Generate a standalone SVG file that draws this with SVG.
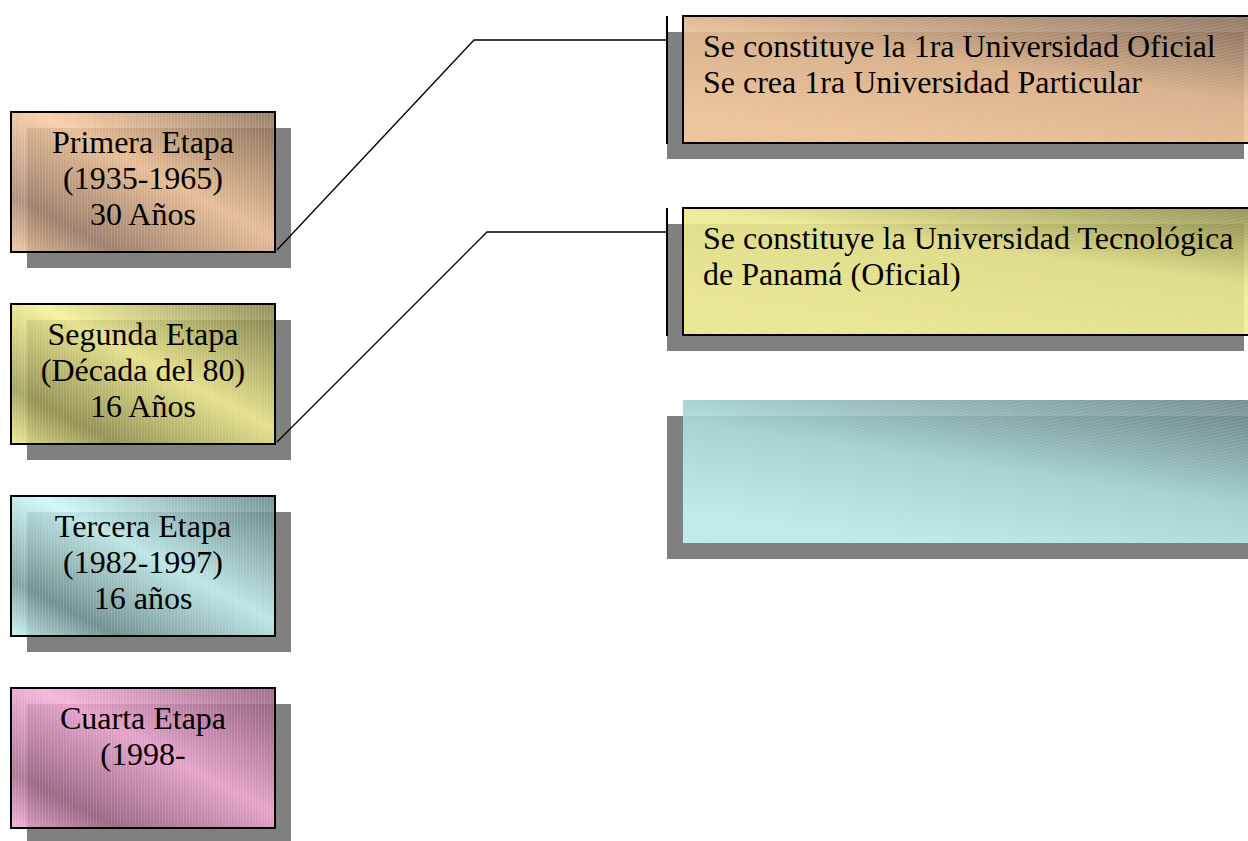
<svg xmlns="http://www.w3.org/2000/svg" width="1248" height="841" viewBox="0 0 1248 841">
<style>
.shadow{fill:#808080}
.box{stroke:#000;stroke-width:2}
.t{font-family:"Liberation Serif","Times New Roman",serif;font-size:32px;fill:#000}
.c{text-anchor:middle}
.conn{fill:none;stroke:#000;stroke-width:1.3}
.bar{stroke:#000;stroke-width:2}
</style>
<defs>
<linearGradient id="gPeachL" x1="1" y1="0" x2="0" y2="1">
<stop offset="0" stop-color="#85694f"/>
<stop offset="0.45" stop-color="#f8c799"/>
<stop offset="0.8" stop-color="#a3816a"/>
<stop offset="1" stop-color="#efbf92"/>
</linearGradient>
<linearGradient id="gYellowL" x1="1" y1="0" x2="0" y2="1">
<stop offset="0" stop-color="#7c7b3e"/>
<stop offset="0.45" stop-color="#f5f08e"/>
<stop offset="0.8" stop-color="#98964d"/>
<stop offset="1" stop-color="#ece785"/>
</linearGradient>
<linearGradient id="gTealL" x1="1" y1="0" x2="0" y2="1">
<stop offset="0" stop-color="#5e8080"/>
<stop offset="0.45" stop-color="#c8f7f7"/>
<stop offset="0.8" stop-color="#6f9494"/>
<stop offset="1" stop-color="#c3f2f2"/>
</linearGradient>
<linearGradient id="gPinkL" x1="1" y1="0" x2="0" y2="1">
<stop offset="0" stop-color="#8e5675"/>
<stop offset="0.45" stop-color="#f5a8d6"/>
<stop offset="0.8" stop-color="#a06486"/>
<stop offset="1" stop-color="#f2a4d1"/>
</linearGradient>
<linearGradient id="gPeachR" x1="1" y1="0" x2="0.4" y2="1">
<stop offset="0" stop-color="#7d6450"/>
<stop offset="0.5" stop-color="#e5b78c"/>
<stop offset="1" stop-color="#fbcb9c"/>
</linearGradient>
<linearGradient id="gYellowR" x1="1" y1="0" x2="0.4" y2="1">
<stop offset="0" stop-color="#858440"/>
<stop offset="0.45" stop-color="#ecE889"/>
<stop offset="1" stop-color="#f8f494"/>
</linearGradient>
<linearGradient id="gTealR" x1="1" y1="0" x2="0.4" y2="1">
<stop offset="0" stop-color="#627e7d"/>
<stop offset="0.55" stop-color="#a8dcdc"/>
<stop offset="1" stop-color="#c6f8f8"/>
</linearGradient>
<pattern id="vstripe" width="3" height="3" patternUnits="userSpaceOnUse">
<rect x="0" y="0" width="1" height="3" fill="#fff" opacity="0.12"/>
</pattern>
<pattern id="dstripe" width="6" height="3" patternUnits="userSpaceOnUse" patternTransform="rotate(-12)">
<rect x="0" y="0" width="6" height="1" fill="#fff" opacity="0.12"/>
</pattern>
</defs>

<g id="node-primera">
<rect class="shadow" x="27" y="128" width="264" height="140"/>
<rect x="11" y="112" width="264" height="140" fill="url(#gPeachL)" fill-opacity="0.85"/>
<rect x="11" y="112" width="264" height="140" fill="url(#vstripe)"/>
<rect class="box" x="11" y="112" width="264" height="140" fill="none"/>
<text class="t c" x="143" y="153">Primera Etapa</text>
<text class="t c" x="143" y="189">(1935-1965)</text>
<text class="t c" x="143" y="225">30 Años</text>
</g>

<g id="node-segunda">
<rect class="shadow" x="27" y="320" width="264" height="140"/>
<rect x="11" y="304" width="264" height="140" fill="url(#gYellowL)" fill-opacity="0.85"/>
<rect x="11" y="304" width="264" height="140" fill="url(#vstripe)"/>
<rect class="box" x="11" y="304" width="264" height="140" fill="none"/>
<text class="t c" x="143" y="345">Segunda Etapa</text>
<text class="t c" x="143" y="381">(Década del 80)</text>
<text class="t c" x="143" y="417">16 Años</text>
</g>

<g id="node-tercera">
<rect class="shadow" x="27" y="512" width="264" height="140"/>
<rect x="11" y="496" width="264" height="140" fill="url(#gTealL)" fill-opacity="0.85"/>
<rect x="11" y="496" width="264" height="140" fill="url(#vstripe)"/>
<rect class="box" x="11" y="496" width="264" height="140" fill="none"/>
<text class="t c" x="143" y="537">Tercera Etapa</text>
<text class="t c" x="143" y="573">(1982-1997)</text>
<text class="t c" x="143" y="609">16 años</text>
</g>

<g id="node-cuarta">
<rect class="shadow" x="27" y="704" width="264" height="140"/>
<rect x="11" y="688" width="264" height="140" fill="url(#gPinkL)" fill-opacity="0.85"/>
<rect x="11" y="688" width="264" height="140" fill="url(#vstripe)"/>
<rect class="box" x="11" y="688" width="264" height="140" fill="none"/>
<text class="t c" x="143" y="729">Cuarta Etapa</text>
<text class="t c" x="143" y="765">(1998-</text>
</g>

<g id="node-callout1">
<rect class="shadow" x="667" y="32" width="577" height="127"/>
<rect x="683" y="16" width="570" height="127" fill="url(#gPeachR)" fill-opacity="0.88"/>
<rect x="683" y="16" width="570" height="127" fill="url(#dstripe)"/>
<rect class="box" x="683" y="16" width="570" height="127" fill="none"/>
<line class="bar" x1="667" y1="16" x2="667" y2="144"/>
<text class="t" x="703" y="57">Se constituye la 1ra Universidad Oficial</text>
<text class="t" x="703" y="93">Se crea 1ra Universidad Particular</text>
</g>

<g id="node-callout2">
<rect class="shadow" x="667" y="224" width="577" height="127"/>
<rect x="683" y="208" width="570" height="127" fill="url(#gYellowR)" fill-opacity="0.88"/>
<rect x="683" y="208" width="570" height="127" fill="url(#dstripe)"/>
<rect class="box" x="683" y="208" width="570" height="127" fill="none"/>
<line class="bar" x1="667" y1="208" x2="667" y2="336"/>
<text class="t" x="703" y="249">Se constituye la Universidad Tecnológica</text>
<text class="t" x="703" y="285">de Panamá (Oficial)</text>
</g>

<g id="node-box3">
<rect class="shadow" x="667" y="416" width="581" height="143"/>
<rect x="683" y="400" width="570" height="143" fill="url(#gTealR)" fill-opacity="0.88"/>
<rect x="683" y="400" width="570" height="143" fill="url(#dstripe)"/>
</g>

<g id="connectors">
<polyline class="conn" points="277,250 474,40 667,40"/>
<polyline class="conn" points="277,442 487,232 667,232"/>
</g>
</svg>
